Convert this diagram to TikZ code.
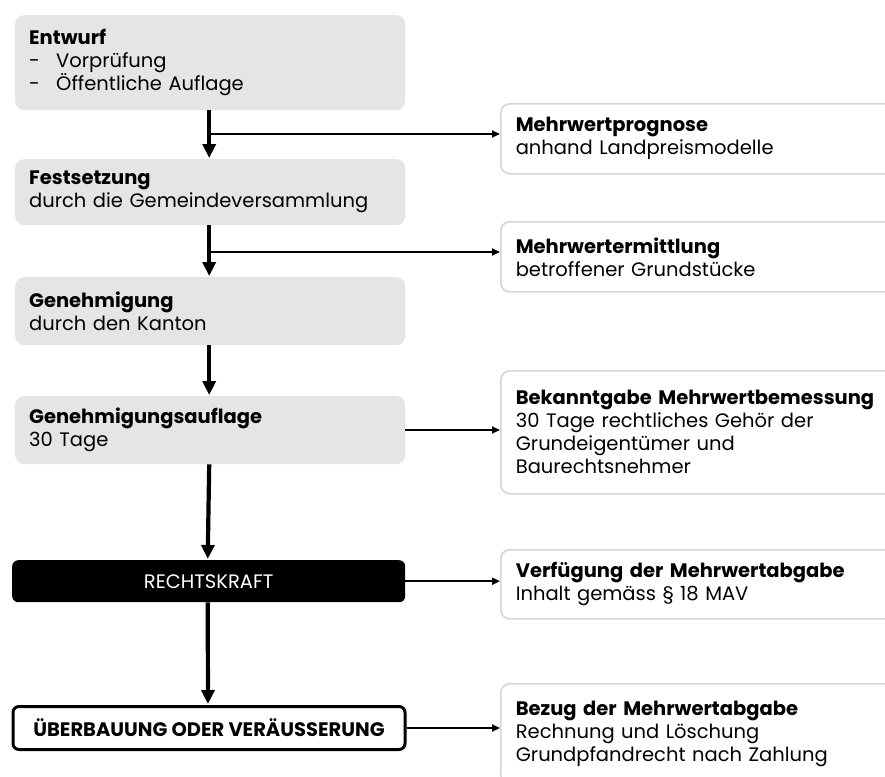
\documentclass[tikz,border=0pt]{standalone}
\usepackage{fontspec}
\setmainfont{Poppins}
\usetikzlibrary{arrows.meta,calc}
\definecolor{boxgray}{HTML}{E5E5E5}
\definecolor{rborder}{HTML}{D6D6D6}
\newcommand{\hd}[1]{\textbf{#1}}
\newcommand{\itm}[1]{\makebox[27pt][l]{-}#1}
\tikzset{
  txt/.style={font=\fontsize{19.5}{23}\selectfont, align=left},
  leftbox/.style={txt, fill=boxgray, rounded corners=9pt, text width=362pt, inner xsep=14pt, inner ysep=0pt, anchor=north west, minimum width=390pt},
  rightbox/.style={txt, draw=rborder, line width=1.6pt, fill=white, rounded corners=9pt, text width=370pt, inner xsep=15pt, inner ysep=0pt, anchor=north west},
  varrow/.style={line width=4.2pt, -{Triangle[length=14pt,width=13pt]}},
  harrow/.style={line width=1.8pt, -{Triangle[length=8pt,width=7pt]}},
}
\begin{document}
\begin{tikzpicture}[x=1pt,y=-1pt]
\useasboundingbox (0,0) rectangle (885,776);
\fill[white] (0,0) rectangle (885,776);
% left column
\node[leftbox, minimum height=95pt] (entwurf) at (15,15) {\hd{Entwurf}\\\itm{Vorprüfung}\\\itm{Öffentliche Auflage}};
\node[leftbox, minimum height=66pt] (fest) at (15,159) {\hd{Festsetzung}\\durch die Gemeindeversammlung};
\node[leftbox, minimum height=68pt] (gen) at (15,277) {\hd{Genehmigung}\\durch den Kanton};
\node[leftbox, minimum height=68pt] (auf) at (15,396) {\hd{Genehmigungsauflage}\\30 Tage};
\node[fill=black, rounded corners=6pt, minimum width=393pt, minimum height=42pt, anchor=north west, text=white, font=\fontsize{19.5}{22}\selectfont] (recht) at (12,560) {RECHTSKRAFT};
\node[draw=black, line width=3pt, fill=white, rounded corners=6pt, minimum width=392pt, minimum height=43pt, anchor=north west, font=\bfseries\fontsize{19.5}{22}\selectfont] (ueber) at (11.5,705) {ÜBERBAUUNG ODER VERÄUSSERUNG};
% right column
\node[rightbox, minimum height=70pt] (mwp) at (500,103) {\hd{Mehrwertprognose}\\anhand Landpreismodelle};
\node[rightbox, minimum height=70pt] (mwe) at (500,221) {\hd{Mehrwertermittlung}\\betroffener Grundstücke};
\node[rightbox, minimum height=123pt] (bek) at (500,370) {\hd{Bekanntgabe Mehrwertbemessung}\\30 Tage rechtliches Gehör der\\Grundeigentümer und\\Baurechtsnehmer};
\node[rightbox, minimum height=69pt] (verf) at (500,549) {\hd{Verfügung der Mehrwertabgabe}\\Inhalt gemäss §~18~MAV};
\node[rightbox, minimum height=100pt] (bez) at (500,683) {\hd{Bezug der Mehrwertabgabe}\\Rechnung und Löschung\\Grundpfandrecht nach Zahlung};
% vertical connectors
\draw[varrow] ([xshift=-1pt]entwurf.south) -- ([xshift=-1pt,yshift=1pt]fest.north);
\draw[varrow] ([xshift=-1pt]fest.south) -- ([xshift=-1pt,yshift=1pt]gen.north);
\draw[varrow] ([xshift=-1pt]gen.south) -- ([xshift=-1pt,yshift=1pt]auf.north);
\draw[varrow] ([xshift=-1pt]auf.south) -- ([xshift=-1pt,yshift=1pt]recht.north);
\draw[varrow] ([xshift=-1pt]recht.south) -- ([xshift=-1pt,yshift=1pt]ueber.north);
% branches
\coordinate (b1) at (209,134);
\coordinate (b2) at (209,252);
\draw[harrow] (b1) -- (b1 -| mwp.west);
\draw[harrow] (b2) -- (b2 -| mwe.west);
\draw[harrow] (auf.east |- 0,430) -- (bek.west |- 0,430);
\draw[harrow] (recht.east) -- (recht.east -| verf.west);
\draw[harrow] (ueber.east) -- (ueber.east -| bez.west);
\end{tikzpicture}
\end{document}
